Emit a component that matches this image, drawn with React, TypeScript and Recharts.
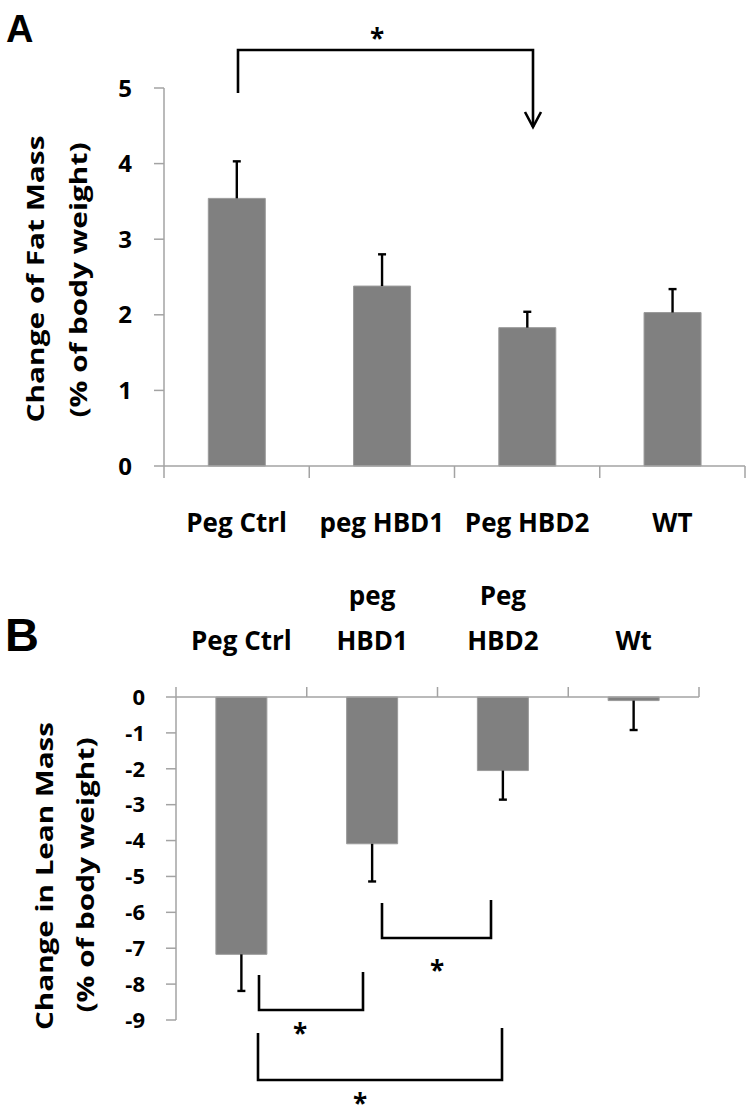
import React from 'react';
import { BarChart, Bar, XAxis, YAxis } from 'recharts';

// Panel A: change of fat mass
const groupsA = ['Peg Ctrl', 'peg HBD1', 'Peg HBD2', 'WT'];
const fatMass = [3.54, 2.38, 1.83, 2.03];
const fatMassErr = [0.49, 0.42, 0.21, 0.31];
const ticksA = [0, 1, 2, 3, 4, 5];

// Panel B: change in lean mass (labels wrap like the original)
const groupsB = ['Peg Ctrl', 'peg\nHBD1', 'Peg\nHBD2', 'Wt'];
const leanMass = [-7.17, -4.09, -2.05, -0.1];
const leanMassErr = [-1.02, -1.05, -0.81, -0.82];
const ticksB = [0, -1, -2, -3, -4, -5, -6, -7, -8, -9];

const dataA = groupsA.map((group, i) => ({ group, value: fatMass[i], err: fatMassErr[i] }));
const dataB = groupsB.map((group, i) => ({ group, value: leanMass[i], err: leanMassErr[i] }));

const AXIS = '#a3a3a3';
const BAR = '#808080';
const FONT = '"Open Sans", Lato, sans-serif';

// category label plus the tick marks between categories (Excel style)
function CatTick(props: any) {
  const { x, y, payload, index, top, size, axisY, markLen } = props;
  const lines = String(payload.value).split('\n');
  const half = payload.offset ?? 0;
  const y2 = top ? axisY - markLen : axisY + markLen;
  const marks = index === 0 ? [x - half, x + half] : [x + half];
  return (
    <g>
      {marks.map((mx, i) => (
        <line key={'m' + i} x1={mx} x2={mx} y1={axisY} y2={y2} stroke={AXIS} strokeWidth={1.5} />
      ))}
      {lines.map((t, i) => (
        <text
          key={i}
          x={x}
          y={top ? y - (lines.length - 1 - i) * 45 : y + i * 45}
          textAnchor="middle"
          fontFamily={FONT}
          fontWeight={700}
          fontSize={size}
          fill="#000"
        >
          {t}
        </text>
      ))}
    </g>
  );
}

// error whisker drawn on a stacked segment, cap at the far end
function Whisker(props: any) {
  const { x, y, width, height, down } = props;
  const cx = x + width / 2;
  const a = y;
  const b = y + height;
  const end = down ? Math.max(a, b) : Math.min(a, b);
  const start = down ? Math.min(a, b) : Math.max(a, b);
  return (
    <g stroke="#000" strokeWidth={2.4}>
      <line x1={cx} x2={cx} y1={start} y2={end} />
      <line x1={cx - 4} x2={cx + 4} y1={end} y2={end} />
    </g>
  );
}

const tickStyle = (size: number) => ({ fontSize: size, fontFamily: FONT, fontWeight: 700, fill: '#000' });

function Star({ x, y }: { x: number; y: number }) {
  return (
    <text x={x} y={y + 15} textAnchor="middle" fontFamily={FONT} fontWeight={700} fontSize={26} fill="#000">
      *
    </text>
  );
}

export default function App() {
  return (
    <div style={{ position: 'absolute', left: 0, top: 0, width: 750, height: 1109, background: '#fff' }}>
      <div style={{ position: 'absolute', left: 0, top: 0 }}>
        <BarChart width={750} height={560} data={dataA} margin={{ top: 88, right: 5, left: 0, bottom: 0 }} barCategoryGap="30.5%">
          <XAxis dataKey="group" height={94} stroke={AXIS} strokeWidth={1.5} tickLine={false} tickSize={12}
            tickMargin={54} interval={0}
            tick={(p: any) => <CatTick {...p} size={26} axisY={466} markLen={12} />} />
          <YAxis domain={[0, 5]} ticks={ticksA} width={164} tickSize={10} tickMargin={22} stroke={AXIS}
            strokeWidth={1.5} tick={tickStyle(24)} interval={0} />
          <Bar dataKey="value" stackId="a" fill={BAR} stroke="#9a9a9a" isAnimationActive={false} />
          <Bar dataKey="err" stackId="a" isAnimationActive={false} shape={(p: any) => <Whisker {...p} />} />
        </BarChart>
      </div>
      <div style={{ position: 'absolute', left: 0, top: 560 }}>
        <BarChart width={750} height={549} data={dataB} margin={{ top: 17, right: 51, left: 0, bottom: 89 }} barCategoryGap="30.5%">
          <XAxis orientation="top" dataKey="group" height={120} stroke={AXIS} strokeWidth={1.5} tickLine={false}
            tickSize={10} tickMargin={37} interval={0}
            tick={(p: any) => <CatTick {...p} top size={26} axisY={137} markLen={10} />} />
          <YAxis domain={[-9, 0]} ticks={ticksB} width={176} tickSize={10} tickMargin={21} stroke={AXIS}
            strokeWidth={1.5} tick={tickStyle(22)} interval={0} />
          <Bar dataKey="value" stackId="b" fill={BAR} stroke="#9a9a9a" isAnimationActive={false} />
          <Bar dataKey="err" stackId="b" isAnimationActive={false} shape={(p: any) => <Whisker {...p} down />} />
        </BarChart>
      </div>
      <svg width={750} height={1109} style={{ position: 'absolute', left: 0, top: 0, pointerEvents: 'none' }}>
        <text x={6} y={42} fontFamily="Liberation Sans, Arial, sans-serif" fontWeight={700} fontSize={38}>A</text>
        <text x={5} y={651} fontFamily="Liberation Sans, Arial, sans-serif" fontWeight={700} fontSize={47}>B</text>

        <g fontFamily={FONT} fontWeight={700} fontSize={24} textAnchor="middle" dominantBaseline="central">
          <text transform="translate(34,279) rotate(-90)" textLength={287} lengthAdjust="spacingAndGlyphs">Change of  Fat Mass</text>
          <text transform="translate(77,280) rotate(-90)" textLength={275} lengthAdjust="spacingAndGlyphs">(% of body weight)</text>
          <text transform="translate(43,876) rotate(-90)" textLength={308} lengthAdjust="spacingAndGlyphs">Change in Lean Mass</text>
          <text transform="translate(84,875) rotate(-90)" textLength={275} lengthAdjust="spacingAndGlyphs">(% of body weight)</text>
        </g>

        <g fill="none" stroke="#000" strokeWidth={2.6}>
          <path d="M238,93 V50 H533 V127" />
          <path d="M525,112 L533,127 L541,112" />
          <path d="M259,975 V1010 H363 V972" />
          <path d="M382,903 V938 H491 V900" />
          <path d="M258,1033 V1080 H502 V1028" />
        </g>
        <Star x={377} y={33} />
        <Star x={300} y={1028} />
        <Star x={437} y={965} />
        <Star x={360} y={1098} />
      </svg>
    </div>
  );
}
